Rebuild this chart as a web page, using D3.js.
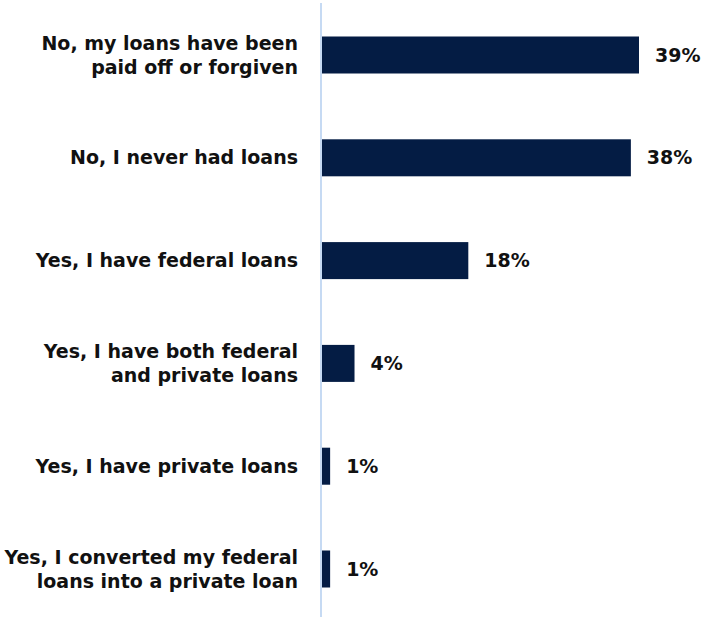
<!DOCTYPE html>
<html>
<head>
<meta charset="utf-8">
<script src="https://cdn.jsdelivr.net/npm/d3@7"></script>
<style>
  html, body { margin: 0; padding: 0; background: #ffffff; }
  svg { display: block; }
  text { font-family: "DejaVu Sans", sans-serif; font-weight: bold; fill: #111111; }
</style>
</head>
<body>
<svg id="chart" width="701" height="617"></svg>
<script>
// Student loan status, share of respondents
const categories = [
  ["No, my loans have been", "paid off or forgiven"],
  ["No, I never had loans"],
  ["Yes, I have federal loans"],
  ["Yes, I have both federal", "and private loans"],
  ["Yes, I have private loans"],
  ["Yes, I converted my federal", "loans into a private loan"]
];
const values = [39, 38, 18, 4, 1, 1];
const valueLabels = ["39%", "38%", "18%", "4%", "1%", "1%"];

const svg = d3.select("#chart");
const x0 = 322;

const x = d3.scaleLinear().domain([0, 39]).range([x0, 639]);
const y = d3.scaleBand()
  .domain(d3.range(categories.length))
  .range([3.6, 620.4])
  .paddingInner(0.64)
  .paddingOuter(0.32);

// bars
svg.selectAll("rect.bar")
  .data(values)
  .join("rect")
  .attr("class", "bar")
  .attr("x", x(0))
  .attr("y", (d, i) => y(i))
  .attr("width", d => x(d) - x(0))
  .attr("height", y.bandwidth())
  .attr("fill", "#041c44");

// category axis line
svg.append("line")
  .attr("x1", 321).attr("x2", 321)
  .attr("y1", 3).attr("y2", 617)
  .attr("stroke", "#c6daf3")
  .attr("stroke-width", 2);

// category labels
const lineH = 24;
const lab = svg.selectAll("text.cat")
  .data(categories)
  .join("text")
  .attr("class", "cat")
  .attr("text-anchor", "end")
  .attr("font-size", 19);
lab.each(function (lines, i) {
  const cy = y(i) + y.bandwidth() / 2;
  const first = cy - (lines.length - 1) * lineH / 2;
  d3.select(this).selectAll("tspan")
    .data(lines)
    .join("tspan")
    .attr("x", 298)
    .attr("y", (l, j) => first + j * lineH)
    .attr("dy", "0.35em")
    .text(l => l);
});

// value labels
svg.selectAll("text.val")
  .data(values)
  .join("text")
  .attr("class", "val")
  .attr("x", d => x(d) + 16)
  .attr("y", (d, i) => y(i) + y.bandwidth() / 2)
  .attr("dy", "0.35em")
  .attr("font-size", 19)
  .text((d, i) => valueLabels[i]);
</script>
</body>
</html>
